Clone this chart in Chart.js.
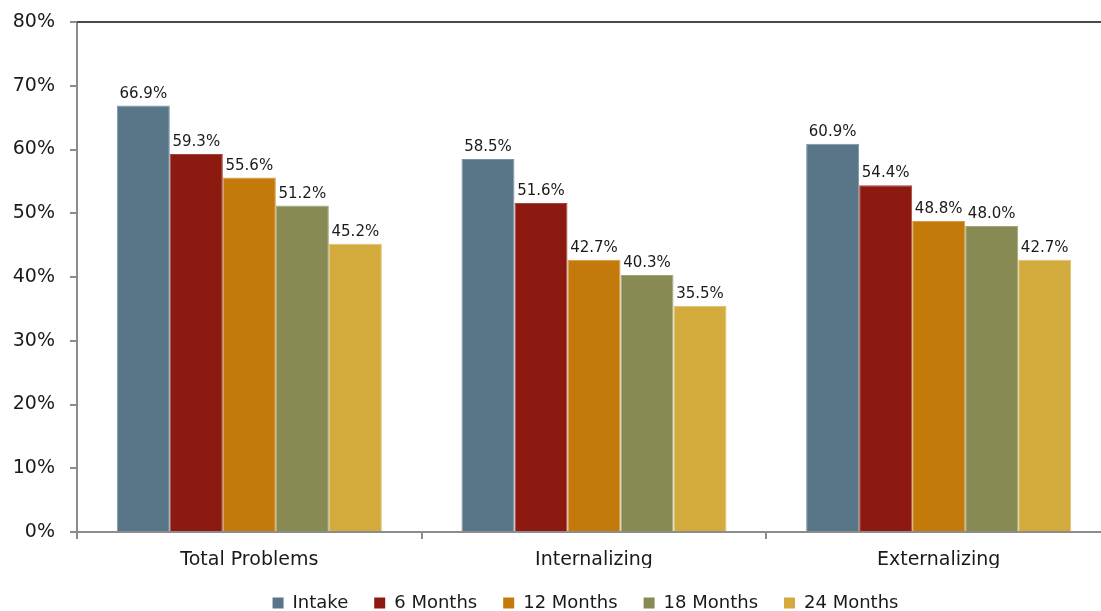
<!DOCTYPE html>
<html>
<head>
<meta charset="utf-8">
<script src="https://cdn.jsdelivr.net/npm/chart.js@4.4.1/dist/chart.umd.min.js"></script>
<style>
  html, body { margin: 0; padding: 0; background: #fff; }
  #wrap { width: 1101px; height: 611px; overflow: hidden; position: relative; }
  #box { width: 1111px; height: 622px; }
</style>
</head>
<body>
<div id="wrap"><div id="box"><canvas id="myChart"></canvas></div></div>
<script>
// problem scores by follow-up wave
const groups = ['Total Problems', 'Internalizing', 'Externalizing'];
const waves = ['Intake', '6 Months', '12 Months', '18 Months', '24 Months'];
const intake = [66.9, 58.5, 60.9];
const months6 = [59.3, 51.6, 54.4];
const months12 = [55.6, 42.7, 48.8];
const months18 = [51.2, 40.3, 48.0];
const months24 = [45.2, 35.5, 42.7];
const colors = ['#587687', '#8c1a10', '#c47a0a', '#878a52', '#d3ab3c'];
const edges = ['#7a95a3', '#a5463d', '#d49a45', '#a3a67a', '#e0c170'];

const FONT = "'DejaVu Sans', Verdana, sans-serif";
const axisGray = '#8c8c8c';

// value labels over each bar + dark top edge of the plot
const barLabels = {
  id: 'barLabels',
  afterLayout(chart) {
    // legend sits centred under the plot, not the whole canvas
    chart.legend.left += 30;
    chart.legend.right += 30;
  },
  afterDatasetsDraw(chart) {
    const ctx = chart.ctx;
    ctx.save();
    ctx.font = '15px ' + FONT;
    ctx.fillStyle = '#1a1a1a';
    ctx.textAlign = 'center';
    ctx.textBaseline = 'alphabetic';
    chart.data.datasets.forEach((ds, i) => {
      chart.getDatasetMeta(i).data.forEach((bar, j) => {
        ctx.fillText(ds.data[j].toFixed(1) + '%', bar.x, bar.y - 8);
      });
    });
    const a = chart.chartArea;
    ctx.strokeStyle = '#4a4a4a';
    ctx.lineWidth = 2;
    ctx.beginPath();
    ctx.moveTo(a.left, a.top);
    ctx.lineTo(a.right, a.top);
    ctx.stroke();
    ctx.restore();
  }
};

const series = [intake, months6, months12, months18, months24];

new Chart(document.getElementById('myChart'), {
  type: 'bar',
  data: {
    labels: groups,
    datasets: series.map((d, i) => ({
      label: waves[i],
      data: d,
      backgroundColor: colors[i],
      borderColor: edges[i],
      borderWidth: 1,
      categoryPercentage: 0.769,
      barPercentage: 1
    }))
  },
  options: {
    responsive: true,
    maintainAspectRatio: false,
    animation: false,
    layout: { padding: { top: 22, right: 0, left: 0, bottom: 0 } },
    plugins: {
      tooltip: { enabled: false },
      legend: {
        position: 'bottom',
        labels: {
          boxWidth: 11,
          boxHeight: 11,
          padding: 26,
          color: '#1a1a1a',
          font: { family: FONT, size: 18 },
          generateLabels(chart) {
            // plain filled squares, no edge
            return chart.data.datasets.map((ds, i) => ({
              text: ds.label,
              fillStyle: colors[i],
              strokeStyle: colors[i],
              lineWidth: 0,
              fontColor: '#1a1a1a',
              datasetIndex: i,
              hidden: false
            }));
          }
        }
      }
    },
    scales: {
      x: {
        grid: {
          offset: true,
          drawOnChartArea: false,
          tickLength: 7,
          color: axisGray,
          lineWidth: 2
        },
        border: { color: axisGray, width: 2 },
        ticks: {
          color: '#1a1a1a',
          padding: 10,
          font: { family: FONT, size: 19 }
        },
        afterFit(scale) {
          scale.height = 36;
          scale.paddingLeft = 0;
          scale.paddingRight = 0;
        }
      },
      y: {
        min: 0,
        max: 80,
        ticks: {
          stepSize: 10,
          color: '#1a1a1a',
          padding: 15,
          font: { family: FONT, size: 19 },
          callback: v => v + '%'
        },
        grid: {
          drawOnChartArea: false,
          tickLength: 7,
          color: axisGray,
          lineWidth: 2
        },
        border: { color: axisGray, width: 2 },
        afterFit(scale) {
          scale.width = 77;
          scale.paddingTop = 0;
          scale.paddingBottom = 0;
        }
      }
    }
  },
  plugins: [barLabels]
});
</script>
</body>
</html>
